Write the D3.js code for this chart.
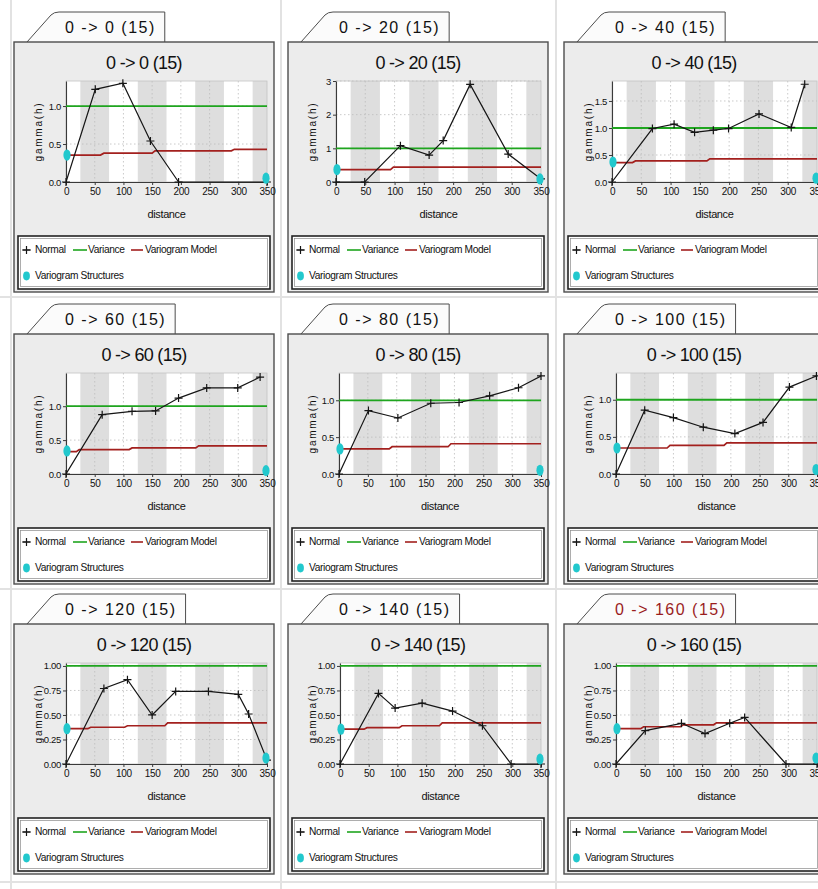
<!DOCTYPE html>
<html>
<head>
<meta charset="utf-8">
<script src="https://cdn.jsdelivr.net/npm/d3@7/dist/d3.min.js"></script>
<style>
  html, body { margin: 0; padding: 0; background: #ffffff; }
  svg { display: block; font-family: "Liberation Sans", Arial, sans-serif; }
</style>
</head>
<body>
<svg id="chart" width="818" height="889"></svg>
<script>
// ---------- data ----------
const panelTitles = [
  "0 -> 0 (15)", "0 -> 20 (15)", "0 -> 40 (15)",
  "0 -> 60 (15)", "0 -> 80 (15)", "0 -> 100 (15)",
  "0 -> 120 (15)", "0 -> 140 (15)", "0 -> 160 (15)"
];

const xTicks = [0, 50, 100, 150, 200, 250, 300, 350];
const xMax = 350;
const variance = 1.0;

// experimental variogram ("Normal") per direction: [distance, gamma]
const normal0   = [[0,0],[51,1.22],[99,1.30],[147,0.54],[196,0],[350,0]];
const normal20  = [[0,0],[49,0],[110,1.08],[159,0.80],[183,1.23],[229,2.90],[294,0.83],[350,0.09]];
const normal40  = [[0,0],[69,0.99],[106,1.07],[141,0.92],[173,0.96],[199,0.99],[251,1.26],[306,1.01],[329,1.81]];
const normal60  = [[0,0],[63,0.875],[115,0.925],[156,0.93],[196,1.12],[245,1.27],[299,1.27],[338,1.43]];
const normal80  = [[0,0],[51,0.86],[102,0.76],[159,0.96],[208,0.97],[261,1.06],[311,1.17],[350,1.33]];
const normal100 = [[0,0],[50,0.86],[100,0.76],[152,0.63],[207,0.545],[256,0.695],[302,1.17],[349,1.32]];
const normal120 = [[0,0],[66,0.77],[107,0.86],[150,0.50],[191,0.74],[248,0.74],[300,0.71],[318,0.51],[350,0.04]];
const normal140 = [[0,0],[67,0.72],[96,0.57],[143,0.62],[196,0.54],[248,0.39],[298,0],[350,0]];
const normal160 = [[0,0],[51,0.34],[114,0.415],[155,0.31],[198,0.415],[224,0.475],[296,0],[350,0]];

// fitted variogram model per direction
const model0   = [[0,0.355],[60,0.355],[66,0.38],[150,0.38],[155,0.41],[288,0.41],[293,0.43],[350,0.43]];
const model20  = [[0,0.37],[93,0.37],[98,0.44],[350,0.44]];
const model40  = [[0,0.36],[35,0.36],[40,0.39],[162,0.39],[167,0.43],[350,0.43]];
const model60  = [[0,0.33],[18,0.33],[23,0.36],[110,0.36],[115,0.385],[226,0.385],[231,0.415],[350,0.415]];
const model80  = [[0,0.34],[87,0.34],[92,0.37],[189,0.37],[194,0.41],[350,0.41]];
const model100 = [[0,0.35],[89,0.35],[94,0.385],[188,0.385],[193,0.42],[350,0.42]];
const model120 = [[0,0.36],[38,0.36],[43,0.375],[102,0.375],[107,0.39],[172,0.39],[177,0.42],[350,0.42]];
const model140 = [[0,0.355],[42,0.355],[47,0.37],[103,0.37],[108,0.39],[173,0.39],[178,0.42],[350,0.42]];
const model160 = [[0,0.36],[43,0.36],[48,0.38],[112,0.38],[117,0.40],[170,0.40],[175,0.42],[350,0.42]];

// variogram structures (nugget / end of range)
const structures0   = [[0,0.355],[350,0.05]];
const structures20  = [[0,0.37],[350,0.09]];
const structures40  = [[0,0.37],[350,0.07]];
const structures60  = [[0,0.34],[350,0.05]];
const structures80  = [[0,0.34],[350,0.05]];
const structures100 = [[0,0.35],[350,0.06]];
const structures120 = [[0,0.36],[350,0.06]];
const structures140 = [[0,0.355],[350,0.05]];
const structures160 = [[0,0.36],[350,0.06]];

const yMaxes = [1.33, 3, 1.87, 1.49, 1.37, 1.36, 1.03, 1.03, 1.03];
const yTicksHalf    = [0, 0.5, 1.0];
const yTicksInt     = [0, 1, 2, 3];
const yTicksHalf15  = [0, 0.5, 1.0, 1.5];
const yTicksQuarter = [0, 0.25, 0.5, 0.75, 1.0];

const legendLabels = ["Normal", "Variance", "Variogram Model", "Variogram Structures"];

// ---------- table built from the arrays ----------
const normals    = [normal0, normal20, normal40, normal60, normal80, normal100, normal120, normal140, normal160];
const models     = [model0, model20, model40, model60, model80, model100, model120, model140, model160];
const structures = [structures0, structures20, structures40, structures60, structures80, structures100, structures120, structures140, structures160];
const yTickSets  = [yTicksHalf, yTicksInt, yTicksHalf15, yTicksHalf, yTicksHalf, yTicksHalf, yTicksQuarter, yTicksQuarter, yTicksQuarter];
const yFormats   = [".1f", "d", ".1f", ".1f", ".1f", ".1f", ".2f", ".2f", ".2f"];

const panels = panelTitles.map((t, i) => ({
  title: t, normal: normals[i], model: models[i], structures: structures[i],
  yMax: yMaxes[i], yTicks: yTickSets[i], yFormat: yFormats[i]
}));

// ---------- layout ----------
const W = 818, H = 889;
const colX = [14, 288, 564];
const rowY = [42, 334, 624];
const panelW = 260, panelH = 250;
const plotInset = [52, 48, 48, 52, 51, 52, 52, 52, 52];

const COLORS = {
  text: "#111111", frame: "#4d4d4d", panel: "#ececec", band: "#dedede",
  grid: "#bdbdbd", normal: "#151515", variance: "#1fa51f",
  model: "#a3201e", structure: "#22c8cd", selectedTab: "#9a1d1d"
};

const svg = d3.select("#chart");

// cell separators
svg.append("g").attr("stroke", "#e2e2e2").attr("stroke-width", 2)
  .selectAll("line").data([11, 281, 556]).join("line")
  .attr("x1", d => d).attr("x2", d => d).attr("y1", 0).attr("y2", H);
svg.append("g").attr("stroke", "#e2e2e2").attr("stroke-width", 2)
  .selectAll("line").data([297, 589, 882]).join("line")
  .attr("x1", 0).attr("x2", W).attr("y1", d => d).attr("y2", d => d);

const markerPath = "M-4,0H4M0,-4V4";

panels.forEach((p, i) => {
  const col = i % 3, row = Math.floor(i / 3);
  const px = colX[col], py = rowY[row];
  const g = svg.append("g");

  // ---- tab ----
  const tabG = g.append("g");
  const tabText = tabG.append("text")
    .attr("x", px + 51).attr("y", py - 13)
    .attr("dominant-baseline", "middle")
    .attr("font-size", 16).attr("letter-spacing", 1.5)
    .attr("fill", i === 8 ? COLORS.selectedTab : COLORS.text)
    .text(p.title);
  const tw = tabText.node().getComputedTextLength();
  const tabR = px + 51 + tw + 9;
  tabG.insert("path", "text")
    .attr("d", `M${px + 13},${py} L${px + 37},${py - 27} Q${px + 40},${py - 30} ${px + 45},${py - 30} L${tabR},${py - 30} L${tabR},${py}`)
    .attr("fill", "#fbfbfb")
    .attr("stroke", COLORS.frame).attr("stroke-width", 1);

  // ---- panel frame ----
  g.append("rect")
    .attr("x", px).attr("y", py).attr("width", panelW).attr("height", panelH)
    .attr("fill", COLORS.panel).attr("stroke", COLORS.frame).attr("stroke-width", 1.4);

  // ---- title ----
  g.append("text")
    .attr("x", px + panelW / 2).attr("y", py + 22)
    .attr("text-anchor", "middle").attr("dominant-baseline", "middle")
    .attr("font-size", 18).attr("letter-spacing", -0.7).attr("fill", COLORS.text)
    .text(p.title);

  // ---- plot area ----
  const plotL = px + plotInset[i], plotR = px + 253;
  const plotT = py + 39, plotB = plotT + 101;
  const x = d3.scaleLinear().domain([0, xMax]).range([plotL, plotR]);
  const y = d3.scaleLinear().domain([0, p.yMax]).range([plotB, plotT]);

  g.append("rect").attr("x", plotL).attr("y", plotT)
    .attr("width", plotR - plotL).attr("height", plotB - plotT).attr("fill", "#ffffff");

  // alternating tick bands
  const halfStep = (xTicks[1] - xTicks[0]) / 2;
  g.append("g").selectAll("rect")
    .data(xTicks.filter((t, k) => k % 2 === 1))
    .join("rect")
    .attr("x", t => x(Math.max(0, t - halfStep)))
    .attr("width", t => x(Math.min(xMax, t + halfStep)) - x(Math.max(0, t - halfStep)))
    .attr("y", plotT).attr("height", plotB - plotT)
    .attr("fill", COLORS.band);

  // dotted grid
  const grid = g.append("g").attr("stroke", COLORS.grid).attr("stroke-width", 0.8)
    .attr("stroke-dasharray", "1.5,2.5");
  grid.selectAll("line.v").data(xTicks.slice(1, -1)).join("line").attr("class", "v")
    .attr("x1", d => x(d)).attr("x2", d => x(d)).attr("y1", plotT).attr("y2", plotB);
  grid.selectAll("line.h").data(p.yTicks.slice(1)).join("line").attr("class", "h")
    .attr("x1", plotL).attr("x2", plotR).attr("y1", d => y(d)).attr("y2", d => y(d));

  g.append("rect").attr("x", plotL).attr("y", plotT)
    .attr("width", plotR - plotL).attr("height", plotB - plotT)
    .attr("fill", "none").attr("stroke", "#c4c4c4").attr("stroke-width", 0.8);

  // ---- axes ----
  const yAxis = g.append("g").attr("transform", `translate(${plotL},0)`)
    .call(d3.axisLeft(y).tickValues(p.yTicks).tickFormat(d3.format(p.yFormat))
      .tickSize(3).tickSizeOuter(0).tickPadding(2));
  const xAxis = g.append("g").attr("transform", `translate(0,${plotB})`)
    .call(d3.axisBottom(x).tickValues(xTicks).tickFormat(d3.format("d"))
      .tickSize(3).tickSizeOuter(0).tickPadding(3));
  [yAxis, xAxis].forEach(a => {
    a.select(".domain").attr("stroke", "#3a3a3a").attr("stroke-width", 1.1);
    a.selectAll(".tick line").attr("stroke", "#3a3a3a");
    a.selectAll(".tick text").attr("fill", COLORS.text)
      .attr("font-family", "'Liberation Sans', Arial, sans-serif");
  });
  yAxis.selectAll(".tick text").attr("font-size", 9.5).attr("letter-spacing", -0.3);
  xAxis.selectAll(".tick text").attr("font-size", 10).attr("letter-spacing", -0.3);

  g.append("text")
    .attr("x", (plotL + plotR) / 2).attr("y", plotB + 33)
    .attr("text-anchor", "middle").attr("dominant-baseline", "middle")
    .attr("font-size", 11).attr("letter-spacing", -0.4).attr("fill", COLORS.text)
    .text("distance");

  g.append("text")
    .attr("transform", `translate(${px + 25},${(plotT + plotB) / 2}) rotate(-90)`)
    .attr("text-anchor", "middle").attr("dominant-baseline", "middle")
    .attr("font-size", 10).attr("letter-spacing", 1.8).attr("fill", COLORS.text)
    .text("gamma(h)");

  // ---- series ----
  const clipId = `clip${i}`;
  g.append("clipPath").attr("id", clipId).append("rect")
    .attr("x", plotL).attr("y", plotT - 1).attr("width", plotR - plotL).attr("height", plotB - plotT + 2);
  const series = g.append("g").attr("clip-path", `url(#${clipId})`);

  series.append("line")
    .attr("x1", plotL).attr("x2", plotR)
    .attr("y1", y(variance)).attr("y2", y(variance))
    .attr("stroke", COLORS.variance).attr("stroke-width", 1.8);

  const line = d3.line().x(d => x(d[0])).y(d => y(d[1]));

  series.append("path").datum(p.model)
    .attr("d", line).attr("fill", "none")
    .attr("stroke", COLORS.model).attr("stroke-width", 1.7);

  series.append("path").datum(p.normal)
    .attr("d", line).attr("fill", "none")
    .attr("stroke", COLORS.normal).attr("stroke-width", 1.2);

  g.append("g").selectAll("path").data(p.normal).join("path")
    .attr("transform", d => `translate(${x(d[0])},${y(d[1])})`)
    .attr("d", markerPath).attr("stroke", COLORS.normal).attr("stroke-width", 1.2);

  g.append("g").selectAll("ellipse").data(p.structures).join("ellipse")
    .attr("cx", d => x(d[0]) + (d[0] === 0 ? 1 : -1))
    .attr("cy", d => y(d[1]))
    .attr("rx", 3.6).attr("ry", 5.6)
    .attr("fill", COLORS.structure);

  // ---- legend ----
  const lx = px + 4, ly = py + 194, lw = panelW - 8, lh = 53;
  const lg = g.append("g");
  lg.append("rect").attr("x", lx).attr("y", ly).attr("width", lw).attr("height", lh)
    .attr("fill", "#ffffff").attr("stroke", "#222").attr("stroke-width", 1.6);
  lg.append("rect").attr("x", lx + 2.5).attr("y", ly + 2.5).attr("width", lw - 5).attr("height", lh - 5)
    .attr("fill", "none").attr("stroke", "#8a8a8a").attr("stroke-width", 0.7);

  const r1 = ly + 14, r2 = ly + 40;
  lg.append("line").attr("x1", lx + 4.5).attr("x2", lx + 12.5).attr("y1", r1).attr("y2", r1)
    .attr("stroke", COLORS.normal).attr("stroke-width", 1.2);
  lg.append("path").attr("transform", `translate(${lx + 8.5},${r1})`).attr("d", markerPath)
    .attr("stroke", COLORS.normal).attr("stroke-width", 1.2);
  lg.append("line").attr("x1", lx + 55).attr("x2", lx + 69).attr("y1", r1).attr("y2", r1)
    .attr("stroke", COLORS.variance).attr("stroke-width", 1.6);
  lg.append("line").attr("x1", lx + 113).attr("x2", lx + 125).attr("y1", r1).attr("y2", r1)
    .attr("stroke", COLORS.model).attr("stroke-width", 1.6);
  lg.append("ellipse").attr("cx", lx + 8.5).attr("cy", r2).attr("rx", 3.4).attr("ry", 4.4)
    .attr("fill", COLORS.structure);

  const legendPos = [[lx + 17, r1], [lx + 70, r1], [lx + 127, r1], [lx + 17, r2]];
  lg.selectAll("text").data(legendLabels).join("text")
    .attr("x", (d, k) => legendPos[k][0]).attr("y", (d, k) => legendPos[k][1])
    .attr("dominant-baseline", "middle")
    .attr("font-size", 10.2).attr("letter-spacing", -0.35).attr("fill", COLORS.text)
    .text(d => d);
});
</script>
</body>
</html>
